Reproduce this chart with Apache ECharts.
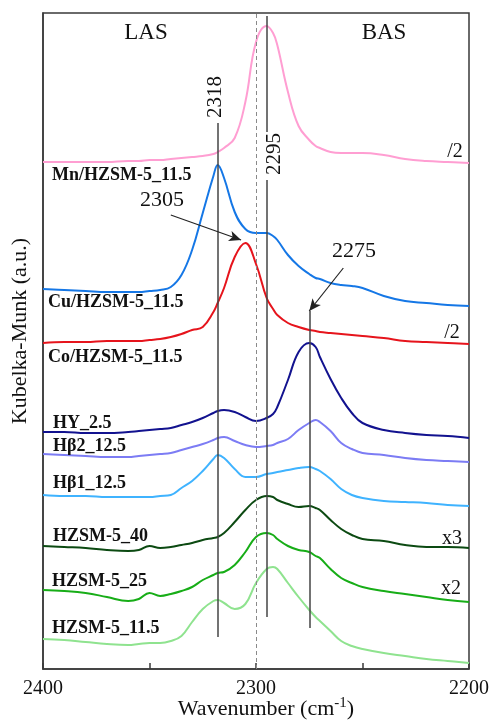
<!DOCTYPE html>
<html>
<head>
<meta charset="utf-8">
<script src="https://cdn.jsdelivr.net/npm/echarts@6/dist/echarts.min.js"></script>
<style>html,body{margin:0;padding:0;background:#fff;}#c{width:492px;height:722px;}</style>
</head>
<body>
<div id="c"></div>
<script>
// Wavenumber sampling (cm-1)
const wavenumbers = [2400,2390,2380,2370,2360,2355,2350,2345,2340,2335,2330,2325,2320,2318,2315,2310,2305,2300,2295,2292,2290,2285,2280,2275,2272,2270,2265,2260,2255,2250,2240,2230,2220,2210,2200];

// Kubelka-Munk (a.u., offset-stacked) values
const mnHZSM115 = [507,507,507,507,508,508,509,509,510,511,512,513,515,517,521,531,567,627,643,636,624,577,543,529,523,521,517,516,516,516,514,510,508,507,506];
const cuHZSM115 = [380,379,378,377,377,377,378,379,382,394,419,456,493,504,491,457,440,436,436,433,429,414,403,395,391,390,386,384,383,381,373,368,366,364,363];
const coHZSM115 = [326,327,327,328,328,328,329,330,332,335,339,342,357,366,381,412,426,405,371,360,354,346,342,339,338,337,336,335,334,333,331,328,327,326,325];
const hy25      = [237,237,236,236,237,238,239,240,241,244,247,251,256,258,259,257,252,248,251,255,262,289,317,326,322,312,290,271,256,246,239,236,234,233,231];
const hb2_125   = [215,214,213,212,212,213,214,215,216,219,222,225,229,231,232,228,224,222,223,224,226,230,239,246,249,247,238,226,220,216,214,211,209,208,207];
const hb1_125   = [174,173,173,172,172,172,172,173,174,181,188,198,210,214,211,200,192,192,195,196,197,199,201,202,200,198,190,180,174,171,168,167,166,164,163];
const hzsm40    = [123,122,121,119,118,119,123,121,122,124,126,129,131,132,136,147,159,169,173,172,169,165,162,163,161,159,149,140,134,130,128,124,122,122,121];
const hzsm25    = [79,78,76,72,68,70,76,73,75,78,82,89,94,96,97,104,117,132,136,134,130,123,119,117,113,111,100,91,86,82,78,75,72,69,67];
const hzsm115   = [30,29,27,25,24,25,26,26,28,33,47,60,68,69,66,60,65,86,100,102,100,86,72,59,52,48,38,28,23,20,16,13,10,8,6];

const seriesNames = ['Mn/HZSM-5_11.5','Cu/HZSM-5_11.5','Co/HZSM-5_11.5','HY_2.5','Hβ2_12.5','Hβ1_12.5','HZSM-5_40','HZSM-5_25','HZSM-5_11.5'];
const seriesValues = [mnHZSM115,cuHZSM115,coHZSM115,hy25,hb2_125,hb1_125,hzsm40,hzsm25,hzsm115];
const seriesColors = ['#ff9ed2','#1577e6','#e6141c','#12128f','#7c7cf4','#3fb3ff','#0c4a12','#17ad17','#8fe38f'];

// Axis ticks
const xTicks = [2400,2300,2200];

// Annotation positions (data units)
const peakLines = [
  {w:2318, from:546, to:32},
  {w:2295, from:653, to:537},
  {w:2295, from:489, to:52},
  {w:2275, from:358, to:41}
];
const arrows = [
  {from:[2340,454], to:[2307,429]},
  {from:[2259,401], to:[2275,358]}
];

const serif = '"Liberation Serif","Times New Roman",serif';

const chart = echarts.init(document.getElementById('c'), null, {renderer:'canvas'});

const series = seriesNames.map((n,i)=>({
  name:n, type:'line', smooth:0.42, showSymbol:false, silent:true,
  lineStyle:{color:seriesColors[i], width:2},
  itemStyle:{color:seriesColors[i]},
  data: wavenumbers.map((w,j)=>[w, seriesValues[i][j]])
}));

const mlData = [];
mlData.push([{coord:[2300,0], lineStyle:{type:[4,3], color:'#8a8a8a', width:1}}, {coord:[2300,656]}]);
peakLines.forEach(p=>mlData.push([{coord:[p.w,p.from], lineStyle:{color:'#444', width:1.5, type:'solid'}}, {coord:[p.w,p.to]}]));

series.push({
  type:'line', data:[], silent:true,
  markLine:{silent:true, symbol:['none','none'], label:{show:false}, animation:false, data:mlData}
});
series.push({
  type:'line', data:[], silent:true,
  markLine:{silent:true, symbol:['none','arrow'], symbolSize:[8,12], label:{show:false}, animation:false,
    lineStyle:{color:'#222', width:1.2, type:'solid'},
    data: arrows.map(a=>[{coord:a.from},{coord:a.to}])}
});

function t(text, x, y, font, opts){
  return Object.assign({type:'text', x:x, y:y, silent:true, z:100,
    style:{text:text, font:font, fill:'#111', textAlign:'center', textVerticalAlign:'middle'}}, opts||{});
}
const labelFont = 'bold 18px ' + serif;
const graphics = [
  t('LAS',146,33,'23px '+serif),
  t('BAS',384,33,'23px '+serif),
  t('2318',215,97,'21px '+serif,{rotation:Math.PI/2}),
  t('2295',274,154,'21px '+serif,{rotation:Math.PI/2}),
  t('2305',162,200,'22px '+serif),
  t('2275',354,251,'22px '+serif),
  t('/2',455,152,'20px '+serif),
  t('/2',452,333,'20px '+serif),
  t('x3',452,539,'20px '+serif),
  t('x2',451,589,'20px '+serif),
  t('Kubelka-Munk (a.u.)',20,331,'22px '+serif,{rotation:Math.PI/2}),
];
const labelPos = [[52,175],[48,302],[48,357],[53,423],[53,446],[53,483],[53,536],[52,581],[52,628]];
labelPos.forEach((p,i)=>{
  graphics.push({type:'text', x:p[0], y:p[1], silent:true, z:100,
    style:{text:seriesNames[i], font:labelFont, fill:'#111', textAlign:'left', textVerticalAlign:'middle'}});
});
graphics.push({type:'text', x:266, y:709, silent:true, z:100,
  style:{text:'{a|Wavenumber (cm}{s|-1}{a|)}', textAlign:'center', textVerticalAlign:'middle', fill:'#111',
    rich:{a:{fontFamily:serif, fontSize:22, fill:'#111', lineHeight:26},
          s:{fontFamily:serif, fontSize:15, fill:'#111', padding:[0,0,12,0], lineHeight:26}}}});

chart.setOption({
  animation:false,
  backgroundColor:'#fff',
  grid:{left:43, right:21, top:13, bottom:53, show:true, borderColor:'#3a3a3a', borderWidth:1.5, backgroundColor:'transparent'},
  xAxis:{type:'value', min:2200, max:2400, interval:50, inverse:true,
    axisLine:{show:true, lineStyle:{color:'#3a3a3a', width:1.5}},
    axisTick:{show:true, inside:true, length:6, lineStyle:{color:'#3a3a3a', width:1.5}},
    splitLine:{show:false},
    axisLabel:{margin:10, fontFamily:serif, fontSize:20, color:'#111',
      formatter:v=> xTicks.indexOf(v)>=0 ? String(v) : ''}},
  yAxis:{type:'value', min:0, max:656, show:true,
    axisLine:{show:true, lineStyle:{color:'#3a3a3a', width:1.5}},
    axisTick:{show:false}, axisLabel:{show:false}, splitLine:{show:false}},
  series:series,
  graphic:graphics
});
</script>
</body>
</html>
